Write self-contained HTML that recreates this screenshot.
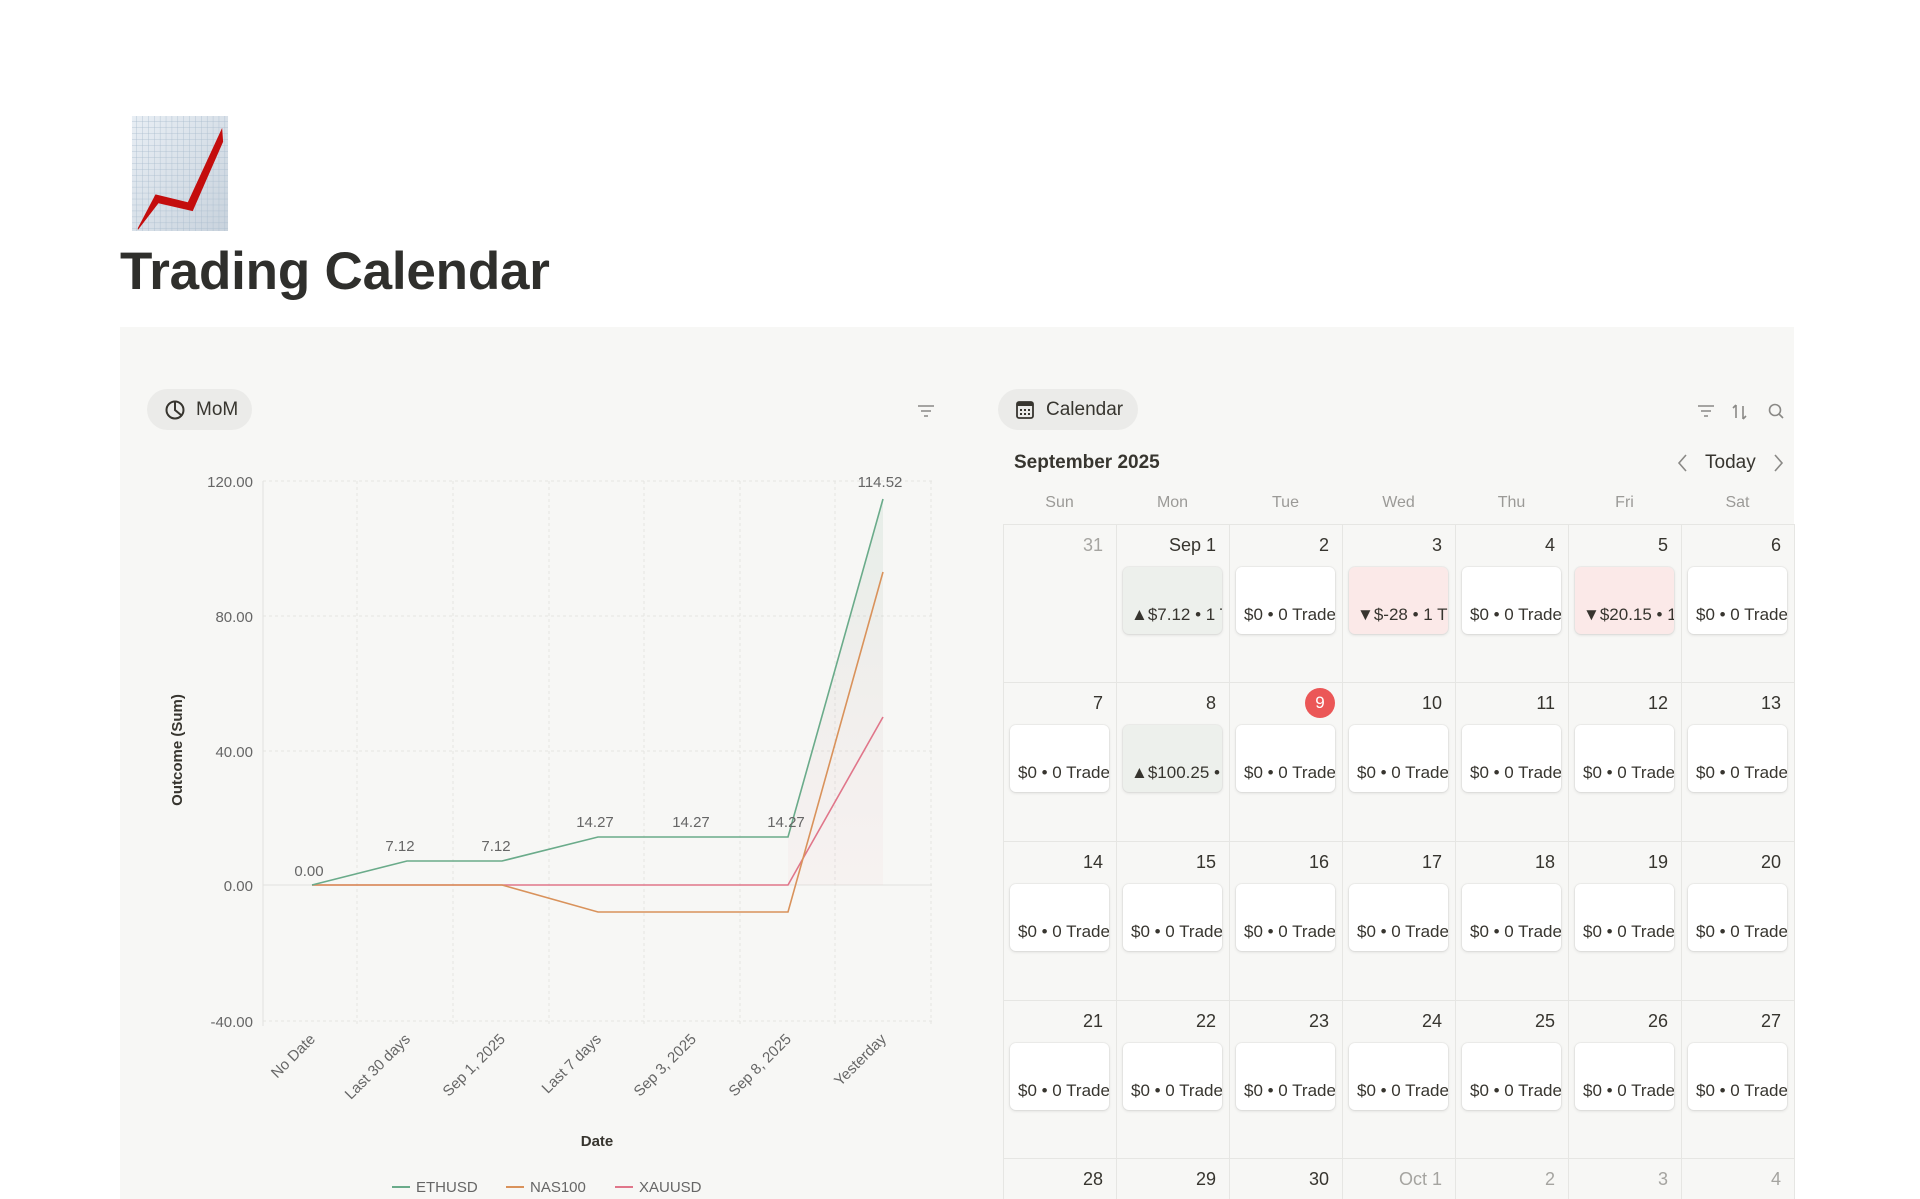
<!DOCTYPE html>
<html><head><meta charset="utf-8"><style>
*{box-sizing:border-box;margin:0;padding:0}
body{width:1920px;height:1199px;overflow:hidden;background:#fff;font-family:"Liberation Sans",sans-serif;color:#37352f;position:relative}
.abs{position:absolute}
.panel{position:absolute;left:120px;top:327px;width:1674px;height:872px;background:#f7f7f5}
.pill{position:absolute;height:41px;border-radius:21px;background:#ebebe9;font-size:19px;display:flex;align-items:center;color:#37352f}
.col{position:absolute;border-left:1px solid #e6e6e3}
.num{position:absolute;font-size:18px;text-align:right;color:#37352f}
.card{position:absolute;height:67px;background:#fff;border-radius:6px;box-shadow:0 1px 3px rgba(0,0,0,.12),0 0 0 1px rgba(0,0,0,.03);font-size:17px;white-space:nowrap;overflow:hidden;padding:38px 0 0 8px;color:#37352f}
.wd{position:absolute;top:494px;font-size:16px;color:#9b9a97;text-align:center;width:113px}
</style></head><body>
<svg class="abs" style="left:131px;top:116px" width="98" height="115" viewBox="0 0 100 116" preserveAspectRatio="none">
<defs><pattern id="g" width="6" height="6" patternUnits="userSpaceOnUse"><path d="M6 0V6H0" fill="none" stroke="#a9bccd" stroke-width="0.8"/></pattern>
<linearGradient id="bg" x1="0" x2="1" y1="0" y2="1"><stop offset="0" stop-color="#e8eef4"/><stop offset="1" stop-color="#c9d3dd"/></linearGradient></defs>
<rect x="1" y="0" width="98" height="116" fill="url(#bg)"/><rect x="1" y="0" width="98" height="116" fill="url(#g)"/>
<path d="M7 123 L25 89 L58 97 L93 22 L94 36 L63 106 L28 98 L7 125Z" transform="translate(0,-10)" fill="#c40d0d"/>
</svg>
<div class="abs" style="left:120px;top:241px;font-size:53px;font-weight:bold;color:#2f2f2c;letter-spacing:-0.2px">Trading Calendar</div>
<div class="panel"></div>
<div class="pill" style="left:147px;top:389px;width:105px;padding-left:17px">
<svg width="22" height="22" viewBox="0 0 22 22"><circle cx="11" cy="11" r="8.5" fill="none" stroke="#37352f" stroke-width="2"/><path d="M11 3V11L17 16" fill="none" stroke="#37352f" stroke-width="2"/></svg><span style="margin-left:10px">MoM</span></div>
<svg class="abs" style="left:917px;top:404px" width="18" height="14"><path d="M1 2H17M4 7H14M7 12H11" stroke="#8a8986" stroke-width="1.6"/></svg>
<svg class="abs" style="left:0;top:0" width="1000" height="1199">
<g stroke="#e4e4e1" stroke-dasharray="3,3" stroke-width="1">
<line x1="263" x2="932" y1="481" y2="481"/><line x1="263" x2="932" y1="616" y2="616"/><line x1="263" x2="932" y1="751" y2="751"/><line x1="263" x2="932" y1="1021" y2="1021"/>
<line x1="357" x2="357" y1="481" y2="1026"/><line x1="453" x2="453" y1="481" y2="1026"/><line x1="549" x2="549" y1="481" y2="1026"/><line x1="644" x2="644" y1="481" y2="1026"/><line x1="740" x2="740" y1="481" y2="1026"/><line x1="835" x2="835" y1="481" y2="1026"/><line x1="931" x2="931" y1="481" y2="1026"/>
</g>
<line x1="263" x2="263" y1="481" y2="1026" stroke="#e2e2df"/>
<line x1="263" x2="932" y1="885" y2="885" stroke="#e2e2df"/>
<g font-size="15" fill="#666" text-anchor="end">
<text x="253" y="487">120.00</text><text x="253" y="622">80.00</text><text x="253" y="757">40.00</text><text x="253" y="891">0.00</text><text x="253" y="1027">-40.00</text></g>
<defs><linearGradient id="fg" x1="0" x2="0" y1="0" y2="1"><stop offset="0" stop-color="#6aab8a" stop-opacity="0.12"/><stop offset="1" stop-color="#e0768a" stop-opacity="0.04"/></linearGradient></defs>
<polygon points="788,838 883,499 883,885 788,885" fill="url(#fg)"/>
<polyline points="312,885 407,885 502,885 598,885 693,885 788,885 883,717" fill="none" stroke="#e0768a" stroke-width="1.6"/>
<polyline points="312,885 407,885 502,885 598,912 693,912 788,912 883,572" fill="none" stroke="#d9925b" stroke-width="1.6"/>
<polyline points="312,885 407,861 502,861 598,837 693,837 788,837 883,499" fill="none" stroke="#6aab8a" stroke-width="1.6"/>
<g font-size="15" fill="#666" text-anchor="middle">
<text x="309" y="876">0.00</text><text x="400" y="851">7.12</text><text x="496" y="851">7.12</text><text x="595" y="827">14.27</text><text x="691" y="827">14.27</text><text x="786" y="827">14.27</text><text x="880" y="487">114.52</text></g>
<g font-size="15" fill="#666" text-anchor="end">
<text transform="translate(316,1040) rotate(-45)">No Date</text>
<text transform="translate(411,1040) rotate(-45)">Last 30 days</text>
<text transform="translate(506,1040) rotate(-45)">Sep 1, 2025</text>
<text transform="translate(602,1040) rotate(-45)">Last 7 days</text>
<text transform="translate(697,1040) rotate(-45)">Sep 3, 2025</text>
<text transform="translate(792,1040) rotate(-45)">Sep 8, 2025</text>
<text transform="translate(887,1040) rotate(-45)">Yesterday</text></g>
<text transform="translate(182,750) rotate(-90)" font-size="15" font-weight="bold" fill="#37352f" text-anchor="middle">Outcome (Sum)</text>
<text x="597" y="1146" font-size="15" font-weight="bold" fill="#37352f" text-anchor="middle">Date</text>
<g font-size="15" fill="#666">
<line x1="392" x2="410" y1="1187" y2="1187" stroke="#6aab8a" stroke-width="2"/><text x="416" y="1192">ETHUSD</text>
<line x1="506" x2="524" y1="1187" y2="1187" stroke="#d9925b" stroke-width="2"/><text x="530" y="1192">NAS100</text>
<line x1="615" x2="633" y1="1187" y2="1187" stroke="#e0768a" stroke-width="2"/><text x="639" y="1192">XAUUSD</text></g>
</svg>
<div class="pill" style="left:998px;top:389px;width:140px;padding-left:18px">
<svg width="18" height="18" viewBox="0 0 18 18"><rect x="1" y="1" width="16" height="16" rx="2" fill="none" stroke="#37352f" stroke-width="1.8"/><rect x="1" y="1" width="16" height="4" fill="#37352f"/><g fill="#37352f"><rect x="4" y="8" width="2" height="2"/><rect x="8" y="8" width="2" height="2"/><rect x="12" y="8" width="2" height="2"/><rect x="4" y="12" width="2" height="2"/><rect x="8" y="12" width="2" height="2"/><rect x="12" y="12" width="2" height="2"/></g></svg><span style="margin-left:12px">Calendar</span></div>
<svg class="abs" style="left:1696px;top:403px" width="100" height="18"><g stroke="#8a8986" stroke-width="1.6" fill="none"><path d="M2 3H18M5 8H15M8 13H12"/><path d="M40 2V15M37 5L40 2M47 16V3M47 16L50 13"/><circle cx="79" cy="7" r="5.5"/><path d="M83 11L87 15"/></g></svg>
<div class="abs" style="left:1014px;top:452px;font-size:19px;font-weight:bold">September 2025</div>
<div class="abs" style="left:1705px;top:452px;font-size:19px">Today</div>
<svg class="abs" style="left:1674px;top:453px" width="115" height="20"><g stroke="#8a8986" stroke-width="1.6" fill="none"><path d="M12 2L5 10L12 18"/><path d="M101 2L108 10L101 18"/></g></svg>
<div class="wd" style="left:1003px">Sun</div><div class="wd" style="left:1116px">Mon</div><div class="wd" style="left:1229px">Tue</div><div class="wd" style="left:1342px">Wed</div><div class="wd" style="left:1455px">Thu</div><div class="wd" style="left:1568px">Fri</div><div class="wd" style="left:1681px">Sat</div>
<div id="cal"></div>
<script>
var L=1003,W=113,tops=[524,682,841,1000,1158];
var rows=[["31","Sep 1","2","3","4","5","6"],["7","8","9","10","11","12","13"],["14","15","16","17","18","19","20"],["21","22","23","24","25","26","27"],["28","29","30","Oct 1","2","3","4"]];
var h='';
for(var r=0;r<5;r++){h+='<div class="abs" style="left:1003px;top:'+tops[r]+'px;width:791px;border-top:1px solid #e6e6e3"></div>';}
for(var c=0;c<=7;c++){h+='<div class="col" style="left:'+Math.round(L+c*W)+'px;top:524px;height:675px"></div>';}
for(r=0;r<5;r++)for(c=0;c<7;c++){
var x=L+c*W,t=tops[r],d=rows[r][c];
var grey=(r==0&&c==0)||(r==4&&c>=3);
if(r==1&&c==2){h+='<div class="abs" style="left:'+Math.round(x+W-37)+'px;top:'+(t+6)+'px;width:30px;height:30px;border-radius:15px;background:#eb5757;color:#fff;font-size:17px;text-align:center;line-height:30px">9</div>';}
else h+='<div class="num" style="left:'+Math.round(x)+'px;top:'+(t+11)+'px;width:'+Math.round(W-13)+'px;color:'+(grey?'#a5a4a0':'#37352f')+'">'+d+'</div>';
if(r<4&&!(r==0&&c==0)){
var txt='$0 • 0 Trades',bg='#fff';
if(r==0&&c==1){txt='▲$7.12 • 1 Trade';bg='#edf0ec';}
if(r==0&&c==3){txt='▼$-28 • 1 Trade';bg='#fbe9e8';}
if(r==0&&c==5){txt='▼$20.15 • 1 Trade';bg='#fbe9e8';}
if(r==1&&c==1){txt='▲$100.25 • 1 Trade';bg='#edf0ec';}
h+='<div class="card" style="left:'+Math.round(x+7)+'px;top:'+(t+43)+'px;width:'+Math.round(W-14)+'px;background:'+bg+'">'+txt+'</div>';}
}
document.getElementById('cal').innerHTML=h;
</script>
</body></html>
